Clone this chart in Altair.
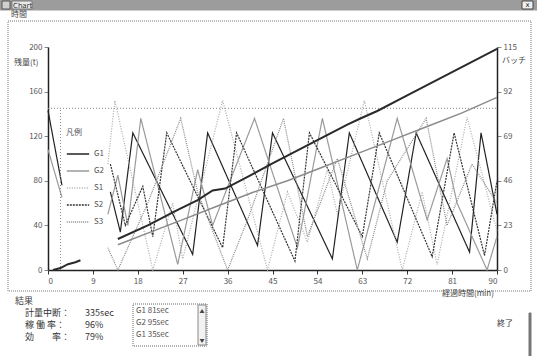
import altair as alt
import pandas as pd

# ---------------- data ----------------
x_ticks = [0, 9, 18, 27, 36, 45, 54, 63, 72, 81, 90]
left_ticks = [0, 40, 80, 120, 160, 200]
right_ticks = [0, 23, 46, 69, 92, 115]
series_names = ["G1", "G2", "S1", "S2", "S3"]

G1_t = [0, 2.8, None, 12.5, 14.5, 17, 29, 32, 42, 45, 57, 60.4, 70, 73.8, 84.5, 86.8, 90]
G1_v = [143, 76, None, 70, 34, 123, 14, 123, 22, 123, 10, 123, 25, 123, 16, 123, 50]
G2_t = [0, 2.8, None, 12, 14, 16, 18.6, 26, 30, 33, 41.4, 47, 50, 55, 62, 70, 76, 80, 82, 88, 90]
G2_v = [108, 65, None, 50, 85, 40, 136, 5, 90, 40, 136, 60, 20, 136, 0, 136, 45, 100, 60, 0, 30]
S1_t = [12, 13.4, 21, 25, 27, 35, 44, 48, 52, 56, 58, 63.4, 71, 75, 78, 84, 90]
S1_v = [95, 152, 0, 60, 10, 152, 0, 70, 25, 90, 50, 152, 0, 70, 5, 137, 35]
S2_t = [12.5, 15.5, 19, 21, 23.8, 35, 37.8, 49.5, 52.4, 63, 66.4, 77, 81.4, 87.5, 90]
S2_v = [95, 40, 75, 30, 123, 20, 123, 8, 123, 30, 123, 12, 123, 13, 80]
S3_t = [12, 14, 20, 26.6, 30, 36, 40, 47.2, 52, 58, 64, 68, 75.8, 80, 85, 90]
S3_v = [20, 0, 60, 136, 70, 0, 45, 136, 30, 100, 10, 80, 136, 40, 95, 60]

batchA_t = [1, 2.5, 4, 5.5, 6.5, None, 14, 20, 26, 30, 33, 35.5, 40, 45, 48, 54, 60, 62.5, 66, 72, 78, 84, 90]
batchA_v = [0, 1, 3, 4, 5, None, 16, 23, 31, 36, 41, 42, 48, 55, 59, 67, 75, 78, 82, 90, 98, 106, 114]
batchB_t = [14, 20, 27, 34, 41, 48, 55, 62, 69, 76, 83, 90]
batchB_v = [13, 19, 26, 33, 40, 46, 53, 60, 67, 74, 81, 89]

threshold = [145]
vline_t = [2.5]

result_labels = ["計量中断：", "稼 働 率：", "効　　率："]
result_values = ["335sec", "96%", "79%"]
list_items = ["G1  81sec", "G2  95sec", "G1  35sec"]

# ---------------- build tables ----------------
def to_rows(name, ts, vs):
    rows, seg = [], 0
    for t, v in zip(ts, vs):
        if t is None:
            seg += 1
            continue
        rows.append({"series": name, "t": t, "v": v, "seg": f"{name}-{seg}"})
    return rows

rows = []
for n, ts, vs in [("G1", G1_t, G1_v), ("G2", G2_t, G2_v), ("S1", S1_t, S1_v),
                  ("S2", S2_t, S2_v), ("S3", S3_t, S3_v)]:
    rows += to_rows(n, ts, vs)
levels = pd.DataFrame(rows)
batch = pd.DataFrame(to_rows("A", batchA_t, batchA_v) + to_rows("B", batchB_t, batchB_v))

FONT = "Noto Sans CJK JP"
PL, PT, W, H = 48, 47, 449, 223
one = pd.DataFrame({"a": [0]})

xscale = alt.Scale(domain=[0, 90], nice=False, zero=False)
x_axis = alt.Axis(values=x_ticks, title=None, labelFontSize=8, labelColor="#555", tickColor="#333",
                  domainColor="#222", domainWidth=1.5, tickSize=4, grid=False, labelPadding=3, labelFont=FONT)

colors = ["#222222", "#9a9a9a", "#aaaaaa", "#333333", "#888888"]
dashes = [[1, 0], [1, 0], [1, 1.5], [2, 1], [1, 1]]

lines = alt.Chart(levels).mark_line(strokeWidth=1.2).encode(
    x=alt.X("t:Q", scale=xscale, axis=x_axis),
    y=alt.Y("v:Q", scale=alt.Scale(domain=[0, 200], nice=False),
            axis=alt.Axis(values=left_ticks, title=None, labelFontSize=8, labelColor="#555",
                          domainColor="#222", domainWidth=1.5, tickSize=4, grid=False, labelFont=FONT)),
    color=alt.Color("series:N", scale=alt.Scale(domain=series_names, range=colors),
                    legend=alt.Legend(title="凡例", orient="none", legendX=18, legendY=82,
                                      symbolType="stroke", symbolSize=500, symbolStrokeWidth=1.5,
                                      labelFontSize=8, titleFontSize=8, labelFont=FONT, titleFont=FONT,
                                      titleFontWeight="normal", rowPadding=1, labelColor="#555",
                                      titleColor="#555", padding=0)),
    strokeDash=alt.StrokeDash("series:N", scale=alt.Scale(domain=series_names, range=dashes),
                              legend=alt.Legend(title="凡例", orient="none", legendX=18, legendY=82)),
    detail="seg:N",
    order="t:Q",
)

thr = alt.Chart(pd.DataFrame({"y": threshold})).mark_rule(color="#888", strokeDash=[1, 2], strokeWidth=1).encode(
    y=alt.Y("y:Q"), x=alt.value(0), x2=alt.value(W))
vl = alt.Chart(pd.DataFrame({"t": vline_t, "y0": [0], "y1": [145]})).mark_rule(
    color="#888", strokeDash=[1, 2]).encode(x="t:Q", y="y0:Q", y2="y1:Q")

left = alt.layer(lines, thr, vl)

bl = alt.Chart(batch).mark_line().encode(
    x=alt.X("t:Q", scale=xscale),
    y=alt.Y("v:Q", scale=alt.Scale(domain=[0, 115], nice=False),
            axis=alt.Axis(orient="right", values=right_ticks, title=None, labelFontSize=8, labelColor="#555",
                          domainColor="#222", domainWidth=1.5, tickSize=4, grid=False, labelFont=FONT)),
    color=alt.Color("series:N", scale=alt.Scale(domain=["A", "B"], range=["#2a2a2a", "#8a8a8a"]), legend=None),
    strokeWidth=alt.StrokeWidth("series:N", scale=alt.Scale(domain=["A", "B"], range=[2, 1.5]), legend=None),
    detail="seg:N",
    order="t:Q",
)

def txt(s, x, y, size=9, align="left", color="#333", font=FONT):
    return alt.Chart(one).mark_text(text=s, align=align, baseline="middle", fontSize=size,
                                    font=font, color=color).encode(x=alt.value(x - PL), y=alt.value(y - PT))

def box(x1, y1, x2, y2, fill="transparent", stroke="#555", dash=None, sw=1):
    kw = dict(fill=fill, stroke=stroke, strokeWidth=sw)
    if dash:
        kw["strokeDash"] = dash
    return alt.Chart(one).mark_rect(**kw).encode(
        x=alt.value(x1 - PL), x2=alt.value(x2 - PL), y=alt.value(y1 - PT), y2=alt.value(y2 - PT))

deco = [
    box(0, 0, 537, 10, fill="#9c9c9c", stroke="#9c9c9c"),
    box(2, 1, 10, 9, fill="#d0d0d0", stroke="#555"),
    box(12, 1, 32, 9, fill="#e8e8e8", stroke="#777"),
    txt("Chart", 13, 5.5, size=7, color="#333", font="DejaVu Sans"),
    box(522, 1, 533, 9, fill="#f0f0f0", stroke="#444"),
    txt("x", 527.5, 5, size=7, align="center", color="#222", font="DejaVu Sans"),
    txt("時間", 11, 15, size=8, color="#444"),
    box(8, 21, 531, 291, stroke="#777", dash=[1, 1]),
    txt("残量(t)", 14, 63, size=8, color="#444"),
    txt("バッチ", 502, 61, size=8, color="#444"),
    txt("経過時間(min)", 442, 294, size=8, color="#444"),
    txt("結果", 15, 301, size=9, color="#444"),
    box(133, 304, 207, 346, stroke="#666", dash=[1, 1]),
    box(198, 305, 206, 345, fill="#f2f2f2", stroke="#888"),
    txt("▲", 202, 311, size=5, align="center", color="#444"),
    txt("▼", 202, 340, size=5, align="center", color="#444"),
    txt("終了", 497, 324, size=8, color="#333"),
    box(529, 313, 531, 356, fill="#777", stroke="#777"),
]
for i, (lab, val) in enumerate(zip(result_labels, result_values)):
    deco.append(txt(lab, 25, 313 + 12 * i, size=9, color="#333"))
    deco.append(txt(val, 85, 313 + 12 * i, size=9, color="#333"))
for i, it in enumerate(list_items):
    deco.append(txt(it, 136, 311 + 12 * i, size=8, color="#555"))

chart = alt.layer(left, bl, *deco).resolve_scale(y="independent", color="independent",
                                                  strokeDash="independent").properties(
    width=W, height=H,
    padding={"left": PL, "top": PT, "right": 537 - PL - W, "bottom": 356 - PT - H},
    autosize=alt.AutoSizeParams(type="none"),
    background="white",
).configure_view(stroke=None)

chart.save("out.html", embed_options={"renderer": "svg", "actions": False})
